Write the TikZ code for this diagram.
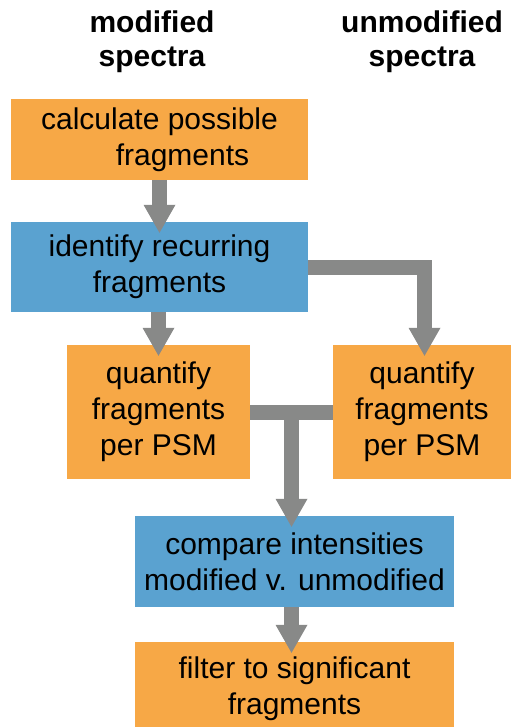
\documentclass[tikz,border=0pt]{standalone}
\usepackage{fontspec}
\setmainfont{Liberation Sans}
\usetikzlibrary{arrows.meta,calc}
\definecolor{boxorange}{RGB}{247,168,70}
\definecolor{boxblue}{RGB}{90,162,208}
\definecolor{flowgray}{RGB}{136,137,136}

\begin{document}
\begin{tikzpicture}[x=1pt, y=-1pt,
headnode/.style={align=center, inner sep=0pt, font=\fontsize{30}{34}\selectfont\bfseries},
stepnode/.style={align=center, inner sep=0pt, font=\fontsize{30}{36}\selectfont},
orangebox/.style={stepnode, fill=boxorange},
bluebox/.style={stepnode, fill=boxblue},
flow/.style={draw=flowgray, line width=15pt, -{Triangle[width=32pt,length=28pt,line width=0pt]}, shorten >=-11pt}]
    \useasboundingbox (0,0) rectangle (511,727);

    \node[headnode] (modhead) at (152,42) {modified\\spectra};
    \node[headnode] (unmodhead) at (422,42) {unmodified\\spectra};

    \node[orangebox, minimum width=297pt, minimum height=81pt] (calc) at (159.5,139.5) {calculate possible\\\hspace*{46pt}fragments};
    \node[bluebox, minimum width=297pt, minimum height=90pt] (ident) at (159.5,267) {identify recurring\\fragments};
    \node[orangebox, minimum width=183pt, minimum height=134pt] (quantmod) at (158.5,412) {quantify\\fragments\\per PSM};
    \node[orangebox, minimum width=178pt, minimum height=134pt] (quantunmod) at (422,412) {quantify\\fragments\\per PSM};
    \node[bluebox, minimum width=319pt, minimum height=91pt] (compare) at (294.5,561.5) {compare intensities\\modified v. unmodified};
    \node[orangebox, minimum width=319pt, minimum height=94pt] (filter) at (294.5,689) {filter to significant\\fragments};

    \coordinate (join) at ($(quantmod.east)!0.5!(quantunmod.west)$);

    \path
      (calc.south) edge[flow] (ident.north)
      (ident.south -| quantmod) edge[flow] (quantmod.north);

    \draw[flow] (ident.east) -| ([xshift=2.5pt]quantunmod.north);
    \draw[flowgray, line width=15pt] (quantmod.east) -- (quantunmod.west);
    \draw[flow] (join) -- (join |- compare.north);
    \draw[flow] (compare.south -| join) -- (filter.north -| join);
\end{tikzpicture}
\end{document}
